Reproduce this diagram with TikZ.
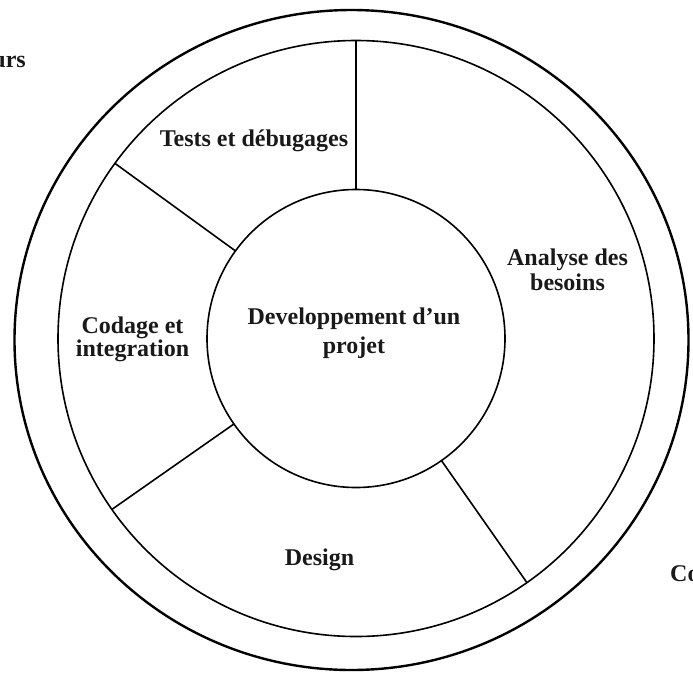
\documentclass[tikz,border=0pt]{standalone}
\usepackage{fontspec}
\setmainfont{Liberation Serif}
\usetikzlibrary{shapes.geometric}
\begin{document}
\begin{tikzpicture}[x=1pt,y=-1pt,
  thinline/.style={draw=black,line width=1.6pt},
  ringshape/.style={circle,thinline,inner sep=0pt,outer sep=0pt},
  lbl/.style={font=\bfseries\fontsize{24}{25}\selectfont,align=center,inner sep=0pt,text=black!90}]
\useasboundingbox (0,0) rectangle (693,673);
% outer border
\node[ellipse,draw=black,line width=2.4pt,inner sep=0pt,outer sep=0pt,
      minimum width=674pt,minimum height=660pt] (outer) at (351.5,340) {};
% ring and core
\node[ringshape,minimum size=596pt] (ring) at (356,338.5) {};
\node[ringshape,minimum size=298pt] (core) at (356,338.5) {};
% dividers
\draw[thinline] (core.90) -- (ring.90);
\draw[thinline] (core.144.2) -- (ring.144.2);
\draw[thinline] (core.215.8) -- (ring.215.8);
\draw[thinline] (core.305.8) -- (ring.305.8);
% labels
\node[lbl,font=\bfseries\fontsize{24}{29}\selectfont] (dev) at (354,333) {Developpement d'un\\projet};
\node[lbl] (tests) at (254,141) {Tests et débugages};
\node[lbl] (analyse) at (567.5,269.4) {Analyse des\\besoins};
\node[lbl,font=\bfseries\fontsize{24}{23}\selectfont] (codage) at (132.5,339.6) {Codage et\\integration};
\node[lbl] (design) at (319.5,559.4) {Design};
\node[lbl,anchor=base east] (urs) at (26,67) {urs};
\node[lbl,anchor=base west] (co) at (670,581) {Co};
\end{tikzpicture}
\end{document}
